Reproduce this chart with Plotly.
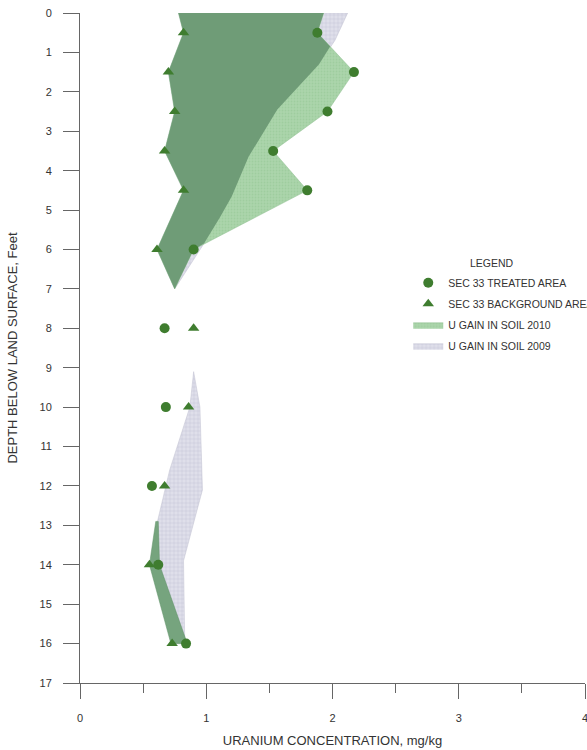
import numpy as np
import plotly.graph_objects as go

# sample data
depth = [0.5, 1.5, 2.5, 3.5, 4.5, 6, 8, 10, 12, 14, 16]
treated = [1.88, 2.17, 1.96, 1.53, 1.80, 0.90, 0.67, 0.68, 0.57, 0.62, 0.84]
background = [0.82, 0.70, 0.75, 0.67, 0.82, 0.61, 0.90, 0.86, 0.67, 0.55, 0.73]

# shaded gain areas, upper zone (0-7 ft)
up_left_d = [0, 0.5, 1.5, 2.5, 3.5, 4.5, 6, 7]
up_left_x = [0.78, 0.82, 0.70, 0.75, 0.67, 0.82, 0.61, 0.75]
g2010_right_d = [0, 0.5, 1.5, 2.5, 3.5, 4.5, 6, 7]
g2010_right_x = [1.93, 1.88, 2.17, 1.96, 1.53, 1.80, 0.90, 0.75]
g2009_right_d = [0, 0.69, 0.86, 1.37, 2.46, 3.73, 4.75, 5.76, 7]
g2009_right_x = [2.12, 2.02, 1.98, 1.88, 1.56, 1.32, 1.19, 1.00, 0.75]

# lower zone (9-16 ft)
lo2009_left_d = [9.1, 10, 11.6, 12.95, 14, 16]
lo2009_left_x = [0.90, 0.87, 0.71, 0.61, 0.57, 0.73]
lo2009_right_d = [9.1, 10, 12.1, 13.9, 16]
lo2009_right_x = [0.90, 0.95, 0.97, 0.82, 0.83]
lo2010_left_d = [12.9, 14, 16]
lo2010_left_x = [0.60, 0.55, 0.72]
lo2010_right_d = [12.9, 14, 16]
lo2010_right_x = [0.62, 0.63, 0.85]

GREEN_LIGHT = "#abd5ab"
GREEN_DARK = "#6f9c77"
LAVENDER = "#dfdfea"
MARK = "#3f7d2f"
FONT = "Liberation Sans, Arial, sans-serif"


def polygon(ld, lx, rd, rx):
    xs = list(lx) + list(rx)[::-1]
    ys = list(ld) + list(rd)[::-1]
    return xs + [xs[0]], ys + [ys[0]]


# overlap of the two upper areas = shared left edge, nearer right edge
dd = np.union1d(np.linspace(0, 7, 281), g2009_right_d)
ov_right = np.minimum(np.interp(dd, g2010_right_d, g2010_right_x),
                      np.interp(dd, g2009_right_d, g2009_right_x))

pat09 = dict(shape="+", size=4, solidity=0.25, fgcolor="#b0b0c6", bgcolor=LAVENDER)
pat10 = dict(shape=".", size=3, solidity=0.3, fgcolor="#93c394", bgcolor=GREEN_LIGHT)

fig = go.Figure()

x, y = polygon(up_left_d, up_left_x, g2009_right_d, g2009_right_x)
fig.add_trace(go.Scatter(x=x, y=y, mode="lines", fill="toself", fillcolor=LAVENDER,
                         fillpattern=pat09, line=dict(width=0.5, color="#c0c0d0"),
                         name="U GAIN IN SOIL 2009", legendgroup="g09", legendrank=4))
x, y = polygon(lo2009_left_d, lo2009_left_x, lo2009_right_d, lo2009_right_x)
fig.add_trace(go.Scatter(x=x, y=y, mode="lines", fill="toself", fillcolor=LAVENDER,
                         fillpattern=pat09, line=dict(width=0.5, color="#c0c0d0"),
                         showlegend=False, legendgroup="g09"))

x, y = polygon(up_left_d, up_left_x, g2010_right_d, g2010_right_x)
fig.add_trace(go.Scatter(x=x, y=y, mode="lines", fill="toself", fillcolor=GREEN_LIGHT,
                         fillpattern=pat10, line=dict(width=0.5, color="#8fbf90"),
                         name="U GAIN IN SOIL 2010", legendgroup="g10", legendrank=3))

x, y = polygon(up_left_d, up_left_x, dd, ov_right)
fig.add_trace(go.Scatter(x=x, y=y, mode="lines", fill="toself", fillcolor=GREEN_DARK,
                         line=dict(width=0), showlegend=False, hoverinfo="skip"))

x, y = polygon(lo2010_left_d, lo2010_left_x, lo2010_right_d, lo2010_right_x)
fig.add_trace(go.Scatter(x=x, y=y, mode="lines", fill="toself", fillcolor="#76a47e",
                         line=dict(width=0.5, color="#5f9066"), showlegend=False,
                         legendgroup="g10"))

fig.add_trace(go.Scatter(x=treated, y=depth, mode="markers", name="SEC 33 TREATED AREA",
                         marker=dict(symbol="circle", size=10, color=MARK),
                         legendgroup="t", legendrank=1))
fig.add_trace(go.Scatter(x=background, y=depth, mode="markers",
                         name="SEC 33 BACKGROUND AREA",
                         marker=dict(symbol="triangle-up", size=10, color=MARK),
                         legendgroup="b", legendrank=2))

fig.update_layout(
    width=587, height=750,
    margin=dict(l=80, r=2, t=13, b=67, autoexpand=False),
    paper_bgcolor="white", plot_bgcolor="white",
    font=dict(family=FONT, size=11, color="#333333"),
    showlegend=True,
    legend=dict(x=0.65, y=0.619, xanchor="left", yanchor="top",
                font=dict(family=FONT, size=10.5, color="#333333"),
                bgcolor="rgba(0,0,0,0)", tracegroupgap=2, itemwidth=30),
    annotations=[dict(text="LEGEND", x=(468 - 80) / 505, y=(683 - 263) / 670,
                      xref="paper", yref="paper", xanchor="left", yanchor="middle",
                      showarrow=False, font=dict(family=FONT, size=10.5, color="#333333"))],
    xaxis=dict(range=[0, 4], dtick=1, showgrid=False, zeroline=False,
               showline=True, linecolor="#666666", linewidth=1,
               ticks="outside", ticklen=15, tickcolor="#666666", ticklabelstandoff=10,
               ticklabeloverflow="allow",
               minor=dict(ticks="outside", ticklen=9, dtick=0.5, tickcolor="#666666"),
               title=dict(text="URANIUM CONCENTRATION, mg/kg", standoff=12,
                          font=dict(size=13))),
    yaxis=dict(range=[17, 0], dtick=1, showgrid=False, zeroline=False,
               showline=True, linecolor="#666666", linewidth=1,
               ticks="outside", ticklen=16, tickcolor="#666666", ticklabelstandoff=9,
               title=dict(text="DEPTH BELOW LAND SURFACE, Feet", standoff=18,
                          font=dict(size=13))),
)

fig.write_html("out.html", config={"displayModeBar": False},
               post_script="document.body.style.margin='0';")
